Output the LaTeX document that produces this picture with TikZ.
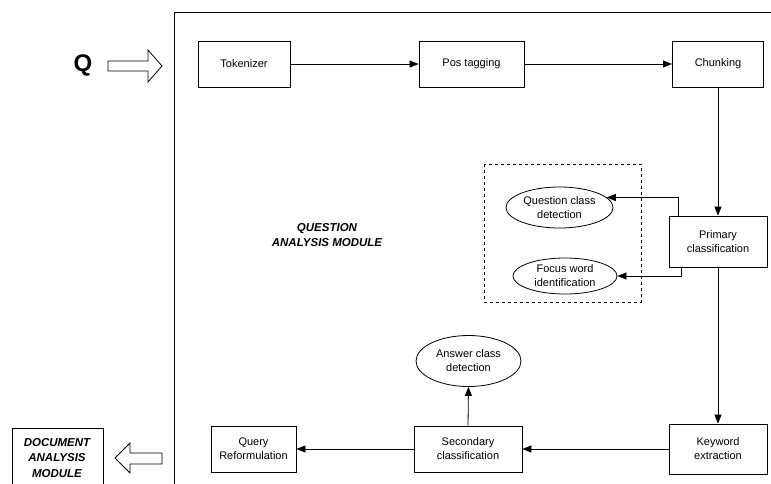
\documentclass[tikz,border=0pt]{standalone}
\usepackage{fontspec}
\setmainfont{Liberation Sans}
\usetikzlibrary{arrows.meta,shapes.geometric,calc}
\begin{document}
\begin{tikzpicture}[x=1pt,y=-1pt,
  every node/.style={inner sep=0pt, align=center},
  box/.style={draw, line width=0.8pt, font=\fontsize{11}{14}\selectfont},
  oval/.style={draw, ellipse, line width=0.8pt, font=\fontsize{11}{14}\selectfont},
  arr/.style={line width=0.8pt, -{Triangle[length=9pt,width=7pt]}},
  lbl/.style={font=\fontsize{11.5}{15.5}\selectfont\bfseries\itshape}
]
\useasboundingbox (0,0) rectangle (771,483);
\begin{scope}
\clip (0,0) rectangle (771,483);
% frame
\draw[line width=0.8pt] (174,490) -- (174,12) -- (780,12);
% document box
\node[draw, line width=0.8pt, minimum width=91pt, minimum height=62pt, anchor=north west] (doc) at (12,428) {};
\end{scope}
\node[lbl] (doctext) at (57,458) {DOCUMENT\\ANALYSIS\\MODULE};

% Q and input arrow
\node[font=\fontsize{24}{24}\selectfont\bfseries] (q) at (83,65) {Q};
\draw[line width=0.8pt] (108,61) -- (148,61) -- (148,50) -- (162,66) -- (148,82) -- (148,71) -- (108,71) -- cycle;
% output arrow
\draw[line width=0.8pt] (162,453) -- (130,453) -- (130,443) -- (115,458) -- (130,473) -- (130,464) -- (162,464) -- cycle;

% module label
\node[lbl] (qam) at (327,235) {QUESTION\\ANALYSIS MODULE};

% boxes
\node[box, minimum width=92pt, minimum height=46pt] (tok) at (244,64) {Tokenizer};
\node[box, minimum width=105pt, minimum height=46pt] (pos) at (471.5,64) {Pos tagging};
\node[box, minimum width=91pt, minimum height=46pt] (chk) at (718,64) {Chunking};
\node[box, minimum width=98pt, minimum height=51pt] (pri) at (718,241.5) {Primary\\classification};
\node[box, minimum width=98pt, minimum height=50pt] (key) at (718,449) {Keyword\\extraction};
\node[box, minimum width=108pt, minimum height=46pt] (sec) at (468,449) {Secondary\\classification};
\node[box, minimum width=85pt, minimum height=46pt] (qry) at (253.5,449) {Query\\Reformulation};

% ellipses
\node[oval, minimum width=107pt, minimum height=41pt] (qcd) at (559.5,207.5) {Question class\\detection};
\node[oval, minimum width=104pt, minimum height=36pt] (fwi) at (565,276) {Focus word\\identification};
\node[oval, minimum width=105pt, minimum height=51pt] (acd) at (468.5,361) {Answer class\\detection};

% dashed group
\draw[dashed, line width=0.7pt] (484,164) rectangle (641,302);

% connectors
\draw[arr] (tok.east) -- (pos.west);
\draw[arr] (pos.east) -- (chk.west);
\draw[arr] (chk.south) -- (pri.north);
\draw[arr] ($(pri.north west)+(10,0)$) |- (qcd.12);
\draw[arr] ($(pri.south west)+(13,0)$) |- (fwi.east);
\draw[arr] (pri.south) -- (key.north);
\draw[arr] (key.west) -- (sec.east);
\draw[arr] (sec.north) -- (acd.south);
\draw[arr] (sec.west) -- (qry.east);
\end{tikzpicture}
\end{document}
